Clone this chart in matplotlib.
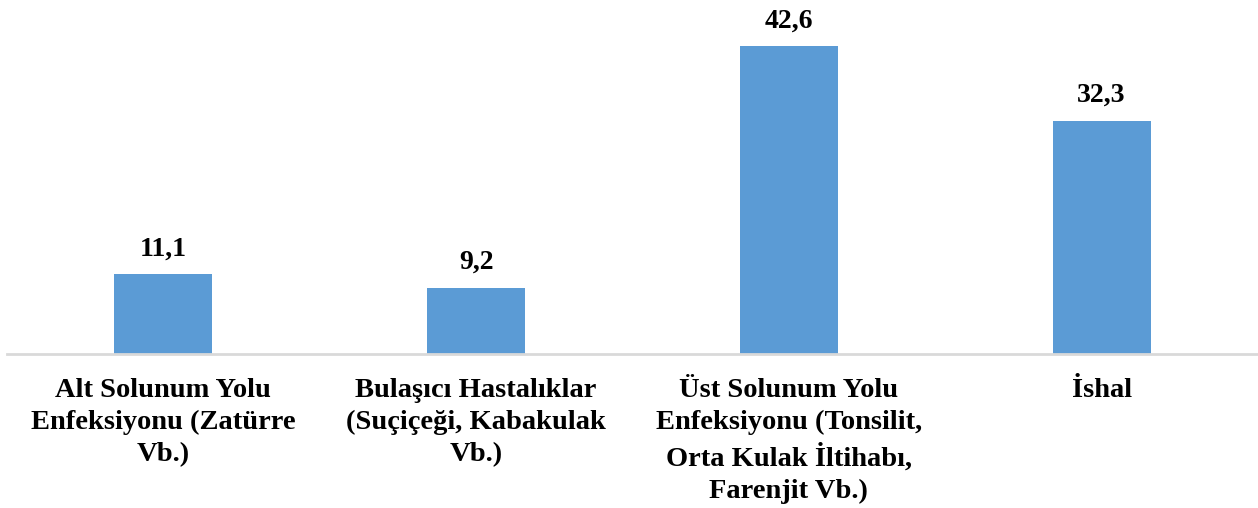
import matplotlib.pyplot as plt

categories = [
    "Alt Solunum Yolu\nEnfeksiyonu (Zatürre\nVb.)",
    "Bulaşıcı Hastalıklar\n(Suçiçeği, Kabakulak\nVb.)",
    "Üst Solunum Yolu\nEnfeksiyonu (Tonsilit,\nOrta Kulak İltihabı,\nFarenjit Vb.)",
    "İshal",
]
values = [11.1, 9.2, 42.6, 32.3]
value_labels = ["11,1", "9,2", "42,6", "32,3"]

plt.rcParams['font.family'] = ['Liberation Serif', 'DejaVu Serif']

fig = plt.figure(figsize=(12.58, 5.08), dpi=100)
ax = fig.add_axes([7 / 1258, 154 / 508, 1 - 7 / 1258, 354 / 508])

x = range(len(values))
bars = ax.bar(x, values, width=0.314, color='#5B9BD5')

for b, lab in zip(bars, value_labels):
    ax.annotate(lab, (b.get_x() + b.get_width() / 2, b.get_height()),
                xytext=(0, 9), textcoords='offset points',
                ha='center', va='bottom', fontsize=20, fontweight='bold')

ax.set_xlim(-0.5, len(values) - 0.5)
ax.set_ylim(0, 49)
ax.set_yticks([])
ax.set_xticks(list(x))
ax.set_xticklabels(categories, fontsize=20.5, fontweight='bold', linespacing=1.38)
ax.tick_params(axis='x', length=0, pad=17)
for s in ['top', 'right', 'left']:
    ax.spines[s].set_visible(False)
ax.spines['bottom'].set_color('#D9D9D9')
ax.spines['bottom'].set_linewidth(2)

fig.savefig('out.png', dpi=100)
